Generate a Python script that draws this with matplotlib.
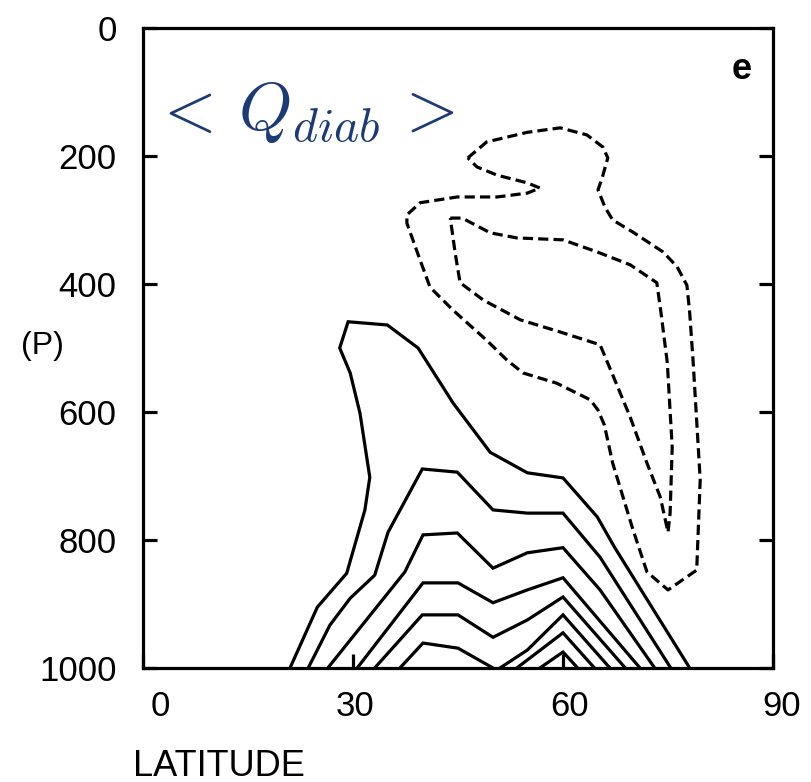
import matplotlib
matplotlib.use("Agg")
import matplotlib.pyplot as plt
from matplotlib.transforms import ScaledTranslation

# Axis ticks
lat_ticks = [0, 30, 60, 90]
p_ticks = [0, 200, 400, 600, 800, 1000]

# Positive heating contours (solid), latitude / pressure (hPa) vertices
c1_lat = [21.0, 24.9, 29.1, 31.7, 32.4, 31.0, 29.6, 28.1, 29.3, 34.9, 39.3, 44.3, 49.6, 54.9, 60.0, 64.9, 67.4, 78.1]
c1_p = [1000, 905, 852, 753, 702, 602, 539, 500, 459, 464, 500, 586, 663, 695, 703, 764, 812, 1000]

c2_lat = [23.6, 26.7, 29.6, 33.1, 35.0, 39.9, 44.9, 50.0, 54.9, 60.0, 65.3, 75.4]
c2_p = [1000, 933, 891, 855, 788, 689, 694, 753, 758, 758, 827, 1000]

c3_lat = [26.4, 37.4, 40.0, 44.9, 50.0, 54.9, 60.0, 65.3, 73.1]
c3_p = [1000, 850, 792, 789, 844, 820, 812, 878, 1000]

c4_lat = [30.6, 40.0, 45.0, 50.0, 54.9, 60.0, 71.0]
c4_p = [1000, 867, 867, 898, 878, 859, 1000]

c5_lat = [33.1, 39.9, 45.0, 50.0, 54.9, 60.0, 68.9]
c5_p = [1000, 917, 917, 952, 925, 889, 1000]

c6a_lat = [36.7, 40.0, 45.0, 50.0]
c6a_p = [1000, 961, 969, 1000]

c6b_lat = [51.0, 54.9, 60.0, 66.7]
c6b_p = [1000, 972, 917, 1000]

c7_lat = [53.4, 60.0, 64.5]
c7_p = [1000, 945, 1000]

c8_lat = [56.7, 60.0, 62.1]
c8_p = [1000, 975, 1000]

# Negative heating contours (dashed), closed loops
d1_lat = [46.4, 49.1, 54.9, 59.6, 63.4, 65.7, 66.4, 65.6, 65.0, 66.0, 67.1, 70.0, 74.3, 76.3,
          77.7, 78.1, 78.6, 79.6, 79.1, 75.0, 72.0, 70.0, 67.1, 65.9, 65.0, 63.9, 59.1, 54.3,
          52.0, 49.1, 44.3, 41.0, 39.6, 37.7, 37.7, 39.6, 44.9, 50.6, 54.9, 56.7, 54.9, 50.6,
          47.7, 46.4]
d1_p = [203, 178, 163, 156, 167, 186, 203, 234, 253, 280, 300, 319, 350, 373,
        402, 445, 523, 706, 847, 878, 850, 784, 680, 620, 597, 581, 555, 539,
        519, 488, 441, 405, 363, 305, 292, 273, 264, 264, 258, 250, 242, 230,
        217, 203]

d2_lat = [43.9, 45.6, 49.6, 53.4, 60.0, 64.9, 69.6, 73.4, 74.0, 74.9, 75.6, 75.3, 75.0,
          73.9, 72.0, 69.6, 67.1, 65.3, 59.6, 53.9, 48.6, 45.3, 44.6, 43.9]
d2_p = [297, 297, 320, 328, 331, 350, 370, 398, 445, 523, 655, 758, 788,
        733, 680, 608, 542, 495, 475, 456, 425, 398, 352, 297]

solid = [(c1_lat, c1_p), (c2_lat, c2_p), (c3_lat, c3_p), (c4_lat, c4_p), (c5_lat, c5_p),
         (c6a_lat, c6a_p), (c6b_lat, c6b_p), (c7_lat, c7_p), (c8_lat, c8_p)]
dashed = [(d1_lat, d1_p), (d2_lat, d2_p)]

plt.rcParams['font.family'] = ['Liberation Sans', 'DejaVu Sans']
plt.rcParams['mathtext.fontset'] = 'cm'

fig = plt.figure(figsize=(8.12, 7.82), dpi=100)
ax = fig.add_axes([143 / 812, 114 / 782, 630 / 812, 640 / 782])

LW = 2.3
for xs, ys in solid:
    ax.plot(xs, ys, color='black', lw=LW, solid_joinstyle='miter')
for xs, ys in dashed:
    ax.plot(xs, ys, color='black', lw=LW, dashes=(3.2, 1.6))

ax.set_xlim(0, 90)
ax.set_ylim(1000, 0)
ax.set_xticks(lat_ticks)
ax.set_yticks(p_ticks)
ax.set_xticklabels([str(v) for v in lat_ticks])
ax.set_yticklabels([str(v) for v in p_ticks])
ax.tick_params(direction='in', length=10, width=LW, labelsize=25, colors='black')
ax.tick_params(axis='x', pad=16)
ax.tick_params(axis='y', pad=19, right=True)
for sp in ax.spines.values():
    sp.set_linewidth(LW)

# small hand-lettered offsets of the latitude labels
for lab, dx in zip(ax.get_xticklabels(), [17, 2, 7, 9]):
    lab.set_transform(lab.get_transform() + ScaledTranslation(dx / 100, 0, fig.dpi_scale_trans))

fig.text(133 / 812, 1 - 766 / 782, 'LATITUDE', fontsize=26, ha='left', va='center')
fig.text(42 / 812, 1 - 346 / 782, '(P)', fontsize=23, ha='center', va='center')

ax.text(0.967, 0.935, 'e', transform=ax.transAxes, fontsize=26, fontweight='bold',
        ha='right', va='center')
ax.text(0.015, 0.868, r'$<\,Q_{diab}\,>$', transform=ax.transAxes, fontsize=49,
        color='#1b3a78', ha='left', va='center')

fig.savefig('out.png', dpi=100)
